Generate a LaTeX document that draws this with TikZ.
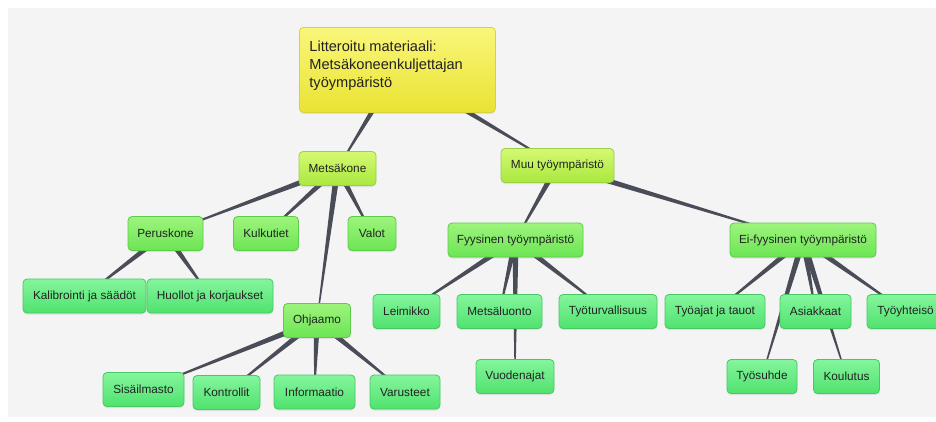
\documentclass[tikz,border=0pt]{standalone}
\usepackage{fontspec}
\setmainfont{Liberation Sans}
\usetikzlibrary{calc,shadows}
\pgfdeclarelayer{bgzero}
\pgfdeclarelayer{links}
\pgfsetlayers{bgzero,links,main}
\definecolor{bgc}{HTML}{F4F4F4}
\definecolor{linkc}{HTML}{4A4D58}
\definecolor{textc}{HTML}{222222}
\definecolor{y1}{HTML}{FAF67A}
\definecolor{y2}{HTML}{E9E333}
\definecolor{yb}{HTML}{D8D23F}
\definecolor{l1}{HTML}{D5F972}
\definecolor{l2}{HTML}{A9E83F}
\definecolor{lb}{HTML}{9ACF47}
\definecolor{m1}{HTML}{9DF47C}
\definecolor{m2}{HTML}{6CE554}
\definecolor{mb}{HTML}{5DCB4C}
\definecolor{g1}{HTML}{84F59C}
\definecolor{g2}{HTML}{50E26F}
\definecolor{gb}{HTML}{48C863}
\newcommand\mylink[3][3.1pt]{\fill[linkc] ($(#2.center)!#1!90:(#3.center)$) -- ($(#2.center)!#1!-90:(#3.center)$) -- ($(#3.center)!0.45pt!90:(#2.center)$) -- ($(#3.center)!0.45pt!-90:(#2.center)$) -- cycle;}
\tikzset{
  x=1pt, y=-1pt,
  basebox/.style={rounded corners=4pt, draw, line width=0.8pt, font=\fontsize{11.8}{13}\selectfont, text=textc, minimum height=34pt, inner sep=0pt, drop shadow={shadow xshift=0pt, shadow yshift=-1.5pt, opacity=0.18}},
  rootbox/.style={basebox, top color=y1, bottom color=y2, draw=yb},
  limebox/.style={basebox, top color=l1, bottom color=l2, draw=lb},
  midbox/.style={basebox, top color=m1, bottom color=m2, draw=mb},
  leafbox/.style={basebox, top color=g1, bottom color=g2, draw=gb},
}
\begin{document}
\begin{tikzpicture}
\useasboundingbox (0,0) rectangle (936,421);
\begin{pgfonlayer}{bgzero}
  \fill[white] (0,0) rectangle (936,421);
  \fill[bgc] (8,8) rectangle (936,417);
\end{pgfonlayer}
% root
\node[rootbox, minimum width=196pt, minimum height=85pt, anchor=north west] (root) at (299,27)
  {\parbox[c][58pt][t]{176pt}{\raggedright\fontsize{14.6}{17.8}\selectfont Litteroitu materiaali:\\Metsäkoneenkuljettajan\\työympäristö}};
% level 2
\node[limebox, minimum width=77pt] (mk) at (337.5,168.5) {Metsäkone};
\node[limebox, minimum width=113pt] (muu) at (557.5,165.5) {Muu työympäristö};
% level 3
\node[midbox, minimum width=75pt] (per) at (165.5,233.5) {Peruskone};
\node[midbox, minimum width=65pt] (kul) at (266,233.5) {Kulkutiet};
\node[midbox, minimum width=48pt] (val) at (372,233.5) {Valot};
\node[midbox, minimum width=67pt] (ohj) at (317,320.5) {Ohjaamo};
\node[midbox, minimum width=135pt] (fyy) at (515.5,240) {Fyysinen työympäristö};
\node[midbox, minimum width=146pt] (eif) at (803,240) {Ei-fyysinen työympäristö};
% leaves
\node[leafbox, minimum width=123pt] (kal) at (84.5,296) {Kalibrointi ja säädöt};
\node[leafbox, minimum width=126pt] (huo) at (210,296) {Huollot ja korjaukset};
\node[leafbox, minimum width=81pt] (sis) at (143.5,389.5) {Sisäilmasto};
\node[leafbox, minimum width=67pt] (kon) at (226.5,392.5) {Kontrollit};
\node[leafbox, minimum width=81pt] (inf) at (314.5,392) {Informaatio};
\node[leafbox, minimum width=70pt] (var) at (405,392) {Varusteet};
\node[leafbox, minimum width=67pt] (lei) at (406.5,311.5) {Leimikko};
\node[leafbox, minimum width=85pt] (mlu) at (499.5,311.5) {Metsäluonto};
\node[leafbox, minimum width=98pt] (tyt) at (608,311.5) {Työturvallisuus};
\node[leafbox, minimum width=78pt] (vuo) at (515,376.5) {Vuodenajat};
\node[leafbox, minimum width=100pt] (taj) at (715,311.5) {Työajat ja tauot};
\node[leafbox, minimum width=71pt] (asi) at (815.5,311.5) {Asiakkaat};
\node[leafbox, minimum width=77pt] (tyy) at (905.5,311.5) {Työyhteisö};
\node[leafbox, minimum width=70pt] (tsu) at (762,376.5) {Työsuhde};
\node[leafbox, minimum width=66pt] (kou) at (846.5,376.5) {Koulutus};
% connectors
\begin{pgfonlayer}{links}
  \mylink[3.6pt]{root}{mk}
  \mylink[3.6pt]{root}{muu}
  \mylink{mk}{per}
  \mylink{mk}{kul}
  \mylink{mk}{val}
  \mylink{mk}{ohj}
  \mylink{per}{kal}
  \mylink{per}{huo}
  \mylink{ohj}{sis}
  \mylink{ohj}{kon}
  \mylink{ohj}{inf}
  \mylink{ohj}{var}
  \mylink{muu}{fyy}
  \mylink{muu}{eif}
  \mylink{fyy}{lei}
  \mylink{fyy}{mlu}
  \mylink{fyy}{tyt}
  \mylink{fyy}{vuo}
  \mylink{eif}{taj}
  \mylink{eif}{asi}
  \mylink{eif}{tyy}
  \mylink{eif}{tsu}
  \mylink{eif}{kou}
\end{pgfonlayer}
\end{tikzpicture}
\end{document}
